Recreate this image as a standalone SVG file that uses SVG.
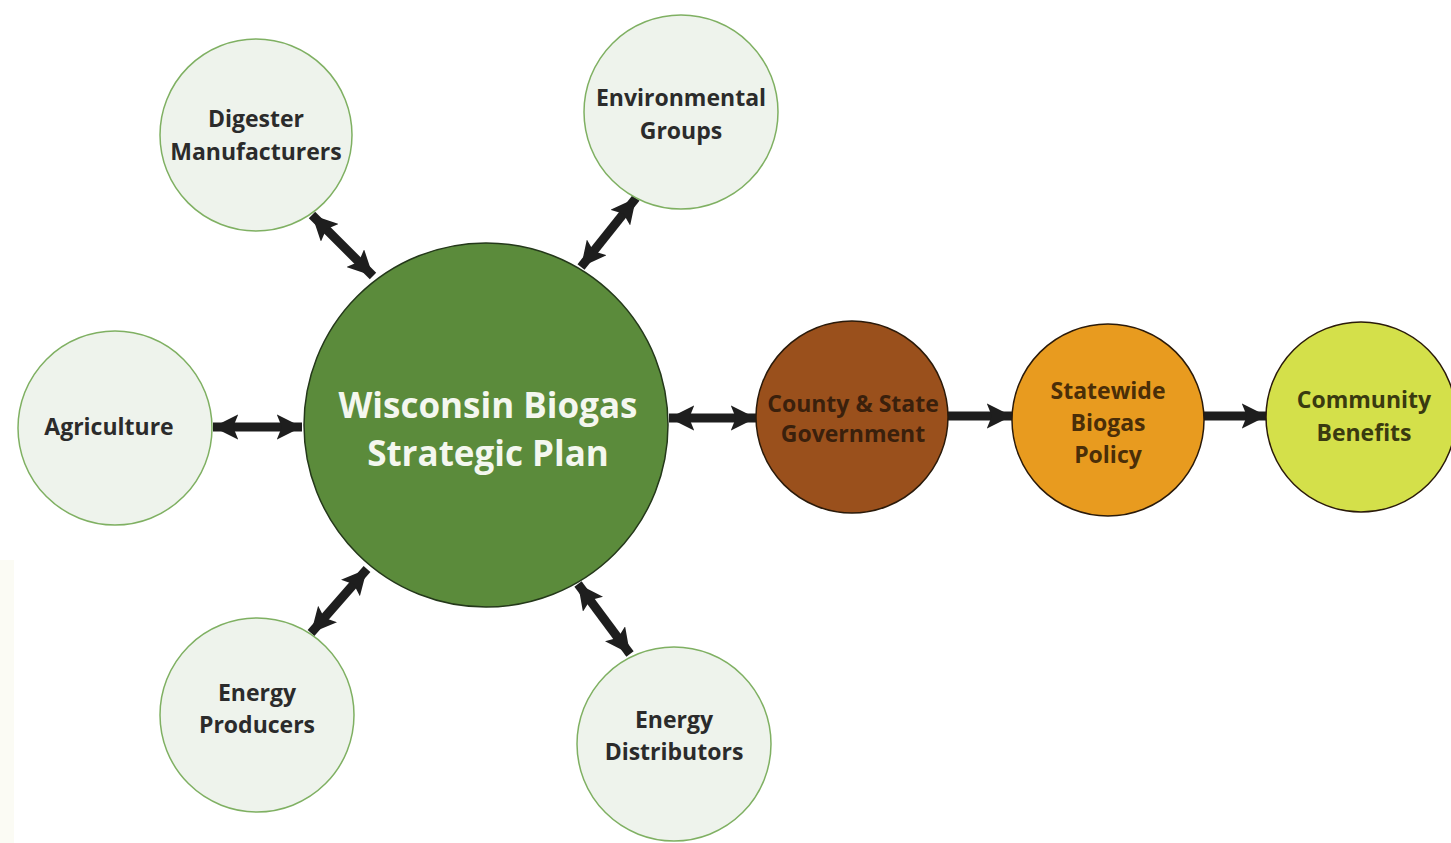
<svg xmlns="http://www.w3.org/2000/svg" width="1451" height="843" viewBox="0 0 1451 843">
<defs>
<marker id="ah" viewBox="0 0 10 10" refX="10" refY="5" markerWidth="2.8" markerHeight="2.8" orient="auto-start-reverse" markerUnits="strokeWidth">
<path d="M0,0 L10,5 L0,10 L2,5 Z" fill="#1e1e1e"/>
</marker>
<style>
.lt{fill:#eef3ec;stroke:#7fb062;stroke-width:1.5}
.lbl{font-family:"Open Sans","Liberation Sans",sans-serif;font-weight:700;font-size:23px;fill:#2b2b2b;text-anchor:middle}
.con{stroke:#1e1e1e;stroke-width:9;fill:none}
.dk{stroke:#2a1a0a;stroke-width:1.5}
</style>
</defs>
<rect width="1451" height="843" fill="#ffffff"/>
<rect x="0" y="560" width="14" height="283" fill="#fbfbf4"/>
<g id="connectors">
<line class="con" x1="312" y1="215" x2="373" y2="276" marker-start="url(#ah)" marker-end="url(#ah)"/>
<line class="con" x1="636" y1="198" x2="581" y2="267" marker-start="url(#ah)" marker-end="url(#ah)"/>
<line class="con" x1="213" y1="427" x2="302" y2="427" marker-start="url(#ah)" marker-end="url(#ah)"/>
<line class="con" x1="367" y1="569" x2="311" y2="633" marker-start="url(#ah)" marker-end="url(#ah)"/>
<line class="con" x1="578" y1="584" x2="630" y2="654" marker-start="url(#ah)" marker-end="url(#ah)"/>
<line class="con" x1="669" y1="418" x2="756" y2="418" marker-start="url(#ah)" marker-end="url(#ah)"/>
<line class="con" x1="947" y1="416" x2="1012" y2="416" marker-end="url(#ah)"/>
<line class="con" x1="1204" y1="416" x2="1267" y2="416" marker-end="url(#ah)"/>
</g>
<g id="central">
<circle cx="486" cy="425" r="182" fill="#5b8b3b" stroke="#24381a" stroke-width="1.5"/>
<text x="488" y="418" style="font-family:'Open Sans','Liberation Sans',sans-serif;font-weight:700;font-size:35px;fill:#f4f7ef;text-anchor:middle">Wisconsin Biogas</text>
<text x="488" y="466" style="font-family:'Open Sans','Liberation Sans',sans-serif;font-weight:700;font-size:35px;fill:#f4f7ef;text-anchor:middle">Strategic Plan</text>
</g>
<g id="digester">
<circle class="lt" cx="256" cy="135" r="96"/>
<text class="lbl" x="256" y="127">Digester</text>
<text class="lbl" x="256" y="160">Manufacturers</text>
</g>
<g id="environmental">
<circle class="lt" cx="681" cy="112" r="97"/>
<text class="lbl" x="681" y="106">Environmental</text>
<text class="lbl" x="681" y="139">Groups</text>
</g>
<g id="agriculture">
<circle class="lt" cx="115" cy="428" r="97"/>
<text class="lbl" x="109" y="435">Agriculture</text>
</g>
<g id="producers">
<circle class="lt" cx="257" cy="715" r="97"/>
<text class="lbl" x="257" y="701">Energy</text>
<text class="lbl" x="257" y="733">Producers</text>
</g>
<g id="distributors">
<circle class="lt" cx="674" cy="744" r="97"/>
<text class="lbl" x="674" y="728">Energy</text>
<text class="lbl" x="674" y="760">Distributors</text>
</g>
<g id="county">
<circle cx="852" cy="417" r="96" fill="#9a501c" class="dk"/>
<text class="lbl" x="853" y="412" style="fill:#3a200c">County &amp; State</text>
<text class="lbl" x="853" y="442" style="fill:#3a200c">Government</text>
</g>
<g id="statewide">
<circle cx="1108" cy="420" r="96" fill="#e89b1f" class="dk"/>
<text class="lbl" x="1108" y="399" style="fill:#4a2e08">Statewide</text>
<text class="lbl" x="1108" y="431" style="fill:#4a2e08">Biogas</text>
<text class="lbl" x="1108" y="463" style="fill:#4a2e08">Policy</text>
</g>
<g id="community">
<circle cx="1361" cy="417" r="95" fill="#d4e04a" class="dk"/>
<text class="lbl" x="1364" y="408" style="fill:#3a3a10">Community</text>
<text class="lbl" x="1364" y="441" style="fill:#3a3a10">Benefits</text>
</g>
</svg>
